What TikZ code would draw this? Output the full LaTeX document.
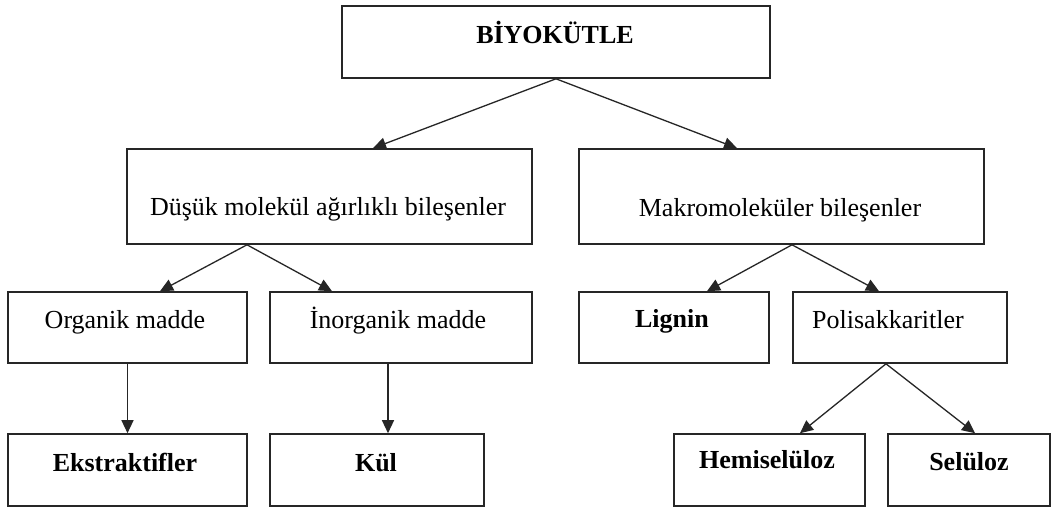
\documentclass[tikz,border=0pt]{standalone}
\usepackage{fontspec}
\setmainfont{Liberation Serif}
\usetikzlibrary{arrows.meta}
\begin{document}
\begin{tikzpicture}[x=1pt,y=-1pt,
  box/.style={draw=black!85, line width=1.6pt, rectangle, inner sep=0pt},
  lbl/.style={anchor=base, inner sep=0pt, font=\fontsize{26}{31}\selectfont},
  blbl/.style={lbl, font=\fontsize{26}{31}\selectfont\bfseries},
  arr/.style={draw=black!85, line width=1.3pt, -{Triangle[length=13pt,width=12pt]}}
]
\useasboundingbox (0,0) rectangle (1052,509);
\fill[white] (0,0) rectangle (1052,509);
% boxes (center x, center y, width, height)
\node[box, minimum width=428pt, minimum height=72pt] (top) at (556,42) {};
\node[box, minimum width=405pt, minimum height=95pt] (dus) at (329.5,196.5) {};
\node[box, minimum width=405pt, minimum height=95pt] (mak) at (781.5,196.5) {};
\node[box, minimum width=239pt, minimum height=71pt] (org) at (127.5,327.5) {};
\node[box, minimum width=262pt, minimum height=71pt] (ino) at (401,327.5) {};
\node[box, minimum width=190pt, minimum height=71pt] (lig) at (674,327.5) {};
\node[box, minimum width=214pt, minimum height=71pt] (pol) at (900,327.5) {};
\node[box, minimum width=239pt, minimum height=72pt] (eks) at (127.5,470) {};
\node[box, minimum width=214pt, minimum height=72pt] (kul) at (377,470) {};
\node[box, minimum width=191pt, minimum height=72pt] (hem) at (769.5,470) {};
\node[box, minimum width=162pt, minimum height=72pt] (sel) at (969,470) {};
% labels
\node[blbl] (top-t) at (555,43) {BİYOKÜTLE};
\node[lbl] (dus-t) at (328,215) {Düşük molekül ağırlıklı bileşenler};
\node[lbl] (mak-t) at (780,216) {Makromoleküler bileşenler};
\node[lbl] (org-t) at (125,328) {Organik madde};
\node[lbl] (ino-t) at (398,328) {İnorganik madde};
\node[blbl] (lig-t) at (672,327) {Lignin};
\node[lbl] (pol-t) at (888,328) {Polisakkaritler};
\node[blbl] (eks-t) at (125,471) {Ekstraktifler};
\node[blbl] (kul-t) at (376,471) {Kül};
\node[blbl] (hem-t) at (767,468) {Hemiselüloz};
\node[blbl] (sel-t) at (969,470) {Selüloz};
% connectors
\draw[arr] (top.south) -- ([xshift=43.5pt]dus.north);
\draw[arr] (top.south) -- ([xshift=-44.5pt]mak.north);
\draw[arr] ([xshift=-82.5pt]dus.south) -- ([xshift=32.5pt]org.north);
\draw[arr] ([xshift=-82.5pt]dus.south) -- ([xshift=-69pt]ino.north);
\draw[arr] ([xshift=10.5pt]mak.south) -- ([xshift=33pt]lig.north);
\draw[arr] ([xshift=10.5pt]mak.south) -- ([xshift=-21pt]pol.north);
\draw[arr] (org.south) -- (eks.north);
\draw[arr] ([xshift=-13pt]ino.south) -- ([xshift=11pt]kul.north);
\draw[arr] ([xshift=-14pt]pol.south) -- ([xshift=30.5pt]hem.north);
\draw[arr] ([xshift=-14pt]pol.south) -- ([xshift=6pt]sel.north);
\end{tikzpicture}
\end{document}
